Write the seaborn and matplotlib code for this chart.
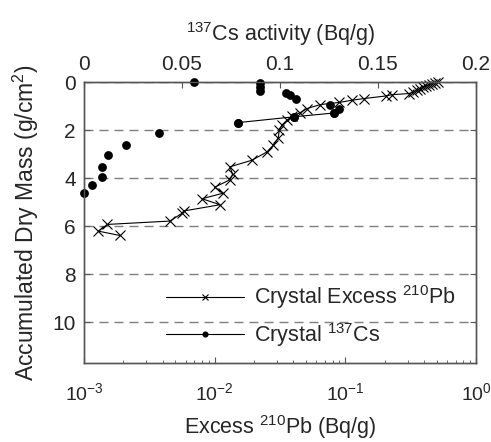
import matplotlib
matplotlib.use("Agg")
import matplotlib.pyplot as plt
import seaborn as sns
import numpy as np
import pandas as pd

# ---- data ----
pb_excess = [0.510, 0.486, 0.460, 0.436, 0.414, 0.393, 0.372, 0.353, 0.329, 0.307,
             0.226, 0.205, 0.139, 0.112, 0.090, 0.0644, 0.0506, 0.045, 0.0388, 0.0356,
             0.0326, 0.0312, 0.0307, 0.0281, 0.0250, 0.0192, 0.0131, 0.0137, 0.0131, 0.0100,
             0.0116, 0.0080, 0.0110, 0.0058, 0.0056, 0.00455, 0.00151, 0.00129, 0.00188]
pb_mass = [0.00, 0.03, 0.07, 0.12, 0.17, 0.22, 0.28, 0.35, 0.42, 0.48,
           0.53, 0.58, 0.69, 0.76, 0.85, 0.94, 1.11, 1.28, 1.43, 1.60,
           1.80, 2.01, 2.32, 2.64, 2.92, 3.26, 3.53, 3.84, 4.07, 4.38,
           4.63, 4.86, 5.11, 5.37, 5.47, 5.79, 5.93, 6.21, 6.39]

cs_activity = [0.0561, 0.0898, 0.0898, 0.0898, 0.103, 0.105, 0.108, 0.1255, 0.130,
               0.1276, 0.107, 0.0787, 0.0384, 0.0213, 0.0124, 0.0090, 0.0090, 0.0041, 0.0]
cs_mass = [0.0, 0.04, 0.21, 0.39, 0.44, 0.55, 0.72, 0.94, 1.11,
           1.29, 1.45, 1.69, 2.12, 2.64, 3.05, 3.54, 3.96, 4.29, 4.61]
cs_linked = [False, False, False, False, False, False, False, False, False,
             True, True, True, False, False, False, False, False, False, False]

y_ticks = [0, 2, 4, 6, 8, 10]
cs_ticks = [0, 0.05, 0.1, 0.15, 0.2]
cs_tick_labels = ["0", "0.05", "0.1", "0.15", "0.2"]

pb_df = pd.DataFrame({"pb": pb_excess, "mass": pb_mass})
cs_df = pd.DataFrame({"cs": cs_activity, "mass": cs_mass, "linked": cs_linked})

# ---- style ----
sns.set_style("white")
plt.rcParams["font.family"] = ["Liberation Sans", "DejaVu Sans"]
plt.rcParams["mathtext.fontset"] = "custom"
plt.rcParams["mathtext.rm"] = "Liberation Sans"
plt.rcParams["mathtext.it"] = "Liberation Sans"
FS = 15.5
TFS = 14
spine_c = "#555555"

fig = plt.figure(figsize=(4.91, 4.42), dpi=100)
ax = fig.add_axes([84 / 491, 1 - 363 / 442, (476 - 84) / 491, (363 - 82) / 442])
ax2 = ax.twiny()

# Excess Pb-210 on bottom log axis
sns.lineplot(data=pb_df, x="pb", y="mass", sort=False, estimator=None, ax=ax,
             color="black", lw=0.8, marker="x", ms=7, mew=0.8, mec="black",
             label="Crystal Excess $^{210}$Pb", legend=False)
for ln in ax.lines:
    ln.set_clip_on(False)

# Cs-137 on top linear axis
sns.scatterplot(data=cs_df, x="cs", y="mass", ax=ax2, color="black", s=40,
                marker="o", edgecolor="black", linewidth=0, legend=False, clip_on=False)
sns.lineplot(data=cs_df[cs_df["linked"]], x="cs", y="mass", sort=False, estimator=None,
             ax=ax2, color="black", lw=0.8, marker="o", ms=6.3, mew=0,
             label="Crystal $^{137}$Cs", legend=False)

ax.set_xscale("log")
ax.set_xlim(1e-3, 1)
ax2.set_xlim(0, 0.2)
ax.set_ylim(11.7, 0)
ax2.set_ylim(11.7, 0)

ax.set_yticks(y_ticks)
ax.set_yticklabels([str(t) for t in y_ticks])
ax2.set_xticks(cs_ticks)
ax2.set_xticklabels(cs_tick_labels)

ax.yaxis.grid(True, color="#7f7f7f", linestyle=(0, (6.5, 4.3)), lw=1.0)
ax.xaxis.grid(False)
ax2.grid(False)
ax.set_axisbelow(True)

for a in (ax, ax2):
    for s in a.spines.values():
        s.set_color(spine_c)
        s.set_linewidth(1.0)
        s.set_visible(True)

ax.tick_params(axis="x", which="major", direction="in", length=4, width=0.8,
               color=spine_c, labelsize=TFS, pad=14, top=False, bottom=True)
ax.tick_params(axis="x", which="minor", direction="in", length=2, width=0.6,
               color=spine_c, top=False, bottom=True)
ax.tick_params(axis="y", direction="in", length=4, width=0.8, color=spine_c,
               labelsize=TFS + 1, pad=6, left=True, right=True)
ax2.tick_params(axis="x", which="major", direction="in", length=4, width=0.8,
                color=spine_c, labelsize=TFS + 1, pad=6, top=True, bottom=False)
ax2.tick_params(axis="x", which="minor", top=False, bottom=False)

ax.set_xlabel("Excess $^{210}$Pb (Bq/g)", fontsize=FS, labelpad=6)
ax.set_ylabel("Accumulated Dry Mass (g/cm$^{2}$)", fontsize=16.5, labelpad=8)
ax2.set_xlabel("$^{137}$Cs activity (Bq/g)", fontsize=FS, labelpad=10)

h1, l1 = ax.get_legend_handles_labels()
h2, l2 = ax2.get_legend_handles_labels()
leg = ax2.legend(h1 + h2, l1 + l2, loc="lower left", bbox_to_anchor=(0.21, 0.05),
                 frameon=False, fontsize=FS, handlelength=3.6, handletextpad=0.45,
                 labelspacing=0.45, borderpad=0, borderaxespad=0, markerscale=0.7)

fig.savefig("out.png", dpi=100)
